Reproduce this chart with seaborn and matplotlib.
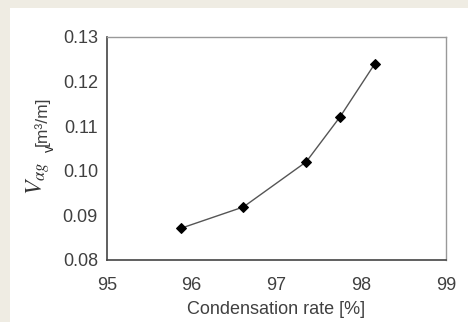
import matplotlib
matplotlib.use("Agg")
import matplotlib.pyplot as plt
import seaborn as sns
import pandas as pd

# Data
condensation_rate = [95.87, 96.61, 97.35, 97.75, 98.16]
v_ag = [0.0871, 0.0919, 0.1020, 0.1121, 0.1240]
x_ticks = [95, 96, 97, 98, 99]
y_ticks = [0.08, 0.09, 0.10, 0.11, 0.12, 0.13]

sns.set_style("white")
plt.rcParams['font.family'] = ['Liberation Sans', 'DejaVu Sans']
plt.rcParams['mathtext.fontset'] = 'stix'

df = pd.DataFrame({"rate": condensation_rate, "v": v_ag})

fig = plt.figure(figsize=(4.68, 3.22), dpi=100, facecolor='white')
# beige frame strips (top and left)
beige = '#efece3'
fig.patches.append(plt.Rectangle((0, 1 - 8/322), 1, 8/322, transform=fig.transFigure,
                                 facecolor=beige, edgecolor='none', zorder=-10))
fig.patches.append(plt.Rectangle((0, 0), 10/468, 1, transform=fig.transFigure,
                                 facecolor=beige, edgecolor='none', zorder=-10))
ax = fig.add_axes([107/468, (322-260)/322, (446-107)/468, (260-37)/322])
ax.set_facecolor('white')

sns.lineplot(data=df, x="rate", y="v", ax=ax, color='#555555', linewidth=1.0,
             marker='D', markersize=5.5, markerfacecolor='black',
             markeredgecolor='black', estimator=None, sort=False)

ax.set_xlim(95, 99)
ax.set_ylim(0.08, 0.13)
ax.set_xticks(x_ticks)
ax.set_yticks(y_ticks)
ax.set_xticklabels([str(t) for t in x_ticks])
ax.set_yticklabels([f"{t:.2f}" for t in y_ticks])
ax.tick_params(axis='both', direction='in', length=3, width=0.8, color='#555555',
               labelsize=13, labelcolor='#404040')
ax.tick_params(axis='y', pad=6.5)
ax.tick_params(axis='x', pad=12.5)

for side in ['top', 'right']:
    ax.spines[side].set_color('#999999')
    ax.spines[side].set_linewidth(1.0)
for side in ['left', 'bottom']:
    ax.spines[side].set_color('#444444')
    ax.spines[side].set_linewidth(1.2)

ax.set_xlabel("Condensation rate [%]", fontsize=13, color='#404040', labelpad=5)

# y label: large serif symbol plus smaller unit text
fig.text(38/468, (322-178)/322, r"$V_{\alpha g}$", rotation=90, ha='center',
         va='center', fontsize=17, color='#333333')
fig.text(42/468, (322-121)/322, "[m³/m]", rotation=90, ha='center',
         va='center', fontsize=12.5, color='#404040')

fig.savefig("out.png", dpi=100, facecolor=fig.get_facecolor())
